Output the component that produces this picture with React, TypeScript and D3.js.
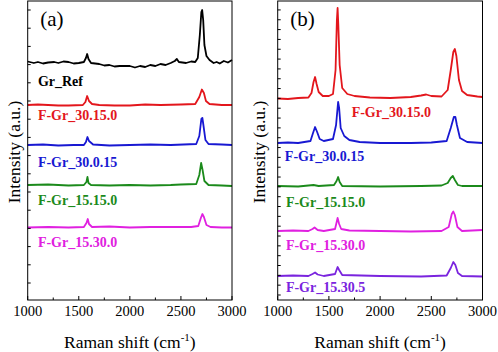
import React from "react";
import * as d3 from "d3";

// Raman shift (cm-1) / intensity (a.u.) pairs, stacked as plotted
const grRef = [[1000, 238.5], [1060, 237], [1100, 238], [1150, 236.5], [1200, 237.5], [1260, 238], [1300, 237], [1350, 238.5], [1400, 238], [1450, 236.5], [1500, 237], [1550, 238], [1570, 242], [1582, 246], [1595, 241], [1620, 237], [1700, 236], [1750, 234.5], [1800, 235], [1850, 233.5], [1900, 234], [2000, 234], [2050, 232.5], [2100, 234], [2150, 233], [2200, 235], [2250, 234], [2300, 236], [2350, 235], [2400, 237], [2440, 239], [2460, 241], [2480, 238], [2550, 237], [2600, 238.5], [2640, 238], [2665, 242], [2685, 265], [2700, 288], [2708, 290], [2718, 280], [2730, 255], [2750, 244], [2780, 240], [2820, 237], [2850, 238], [2880, 236.5], [2920, 239], [2960, 237.5], [3000, 240]];
const fGr30150a = [[1000, 195], [1100, 195.5], [1200, 195], [1300, 194.5], [1400, 194.5], [1540, 195], [1565, 198], [1582, 204], [1600, 199], [1630, 196], [1700, 195], [1850, 194.5], [2000, 194.5], [2150, 195.5], [2300, 195], [2500, 195.5], [2640, 196], [2680, 203], [2705, 210.5], [2725, 207], [2745, 199], [2780, 196], [2900, 195], [3000, 195]];
const fGr30015a = [[1000, 155], [1150, 155.5], [1300, 154.5], [1450, 155], [1550, 155], [1570, 158], [1585, 163], [1600, 159], [1640, 155.5], [1800, 154.5], [2000, 155], [2200, 155.5], [2400, 155], [2650, 156], [2680, 164], [2700, 181], [2710, 182], [2720, 175], [2740, 160], [2770, 156], [2900, 155.5], [3000, 155]];
const fGr15150a = [[1000, 115], [1200, 115.5], [1400, 114.5], [1550, 115], [1575, 118], [1585, 123], [1595, 117], [1620, 115], [1800, 114.5], [2000, 115], [2200, 114.5], [2400, 115], [2500, 115.5], [2650, 116], [2680, 125], [2698, 137], [2712, 130], [2730, 119], [2770, 115], [2900, 114.5], [3000, 114]];
const fGr15300a = [[1000, 72.5], [1200, 73], [1400, 72.5], [1550, 73], [1575, 77], [1588, 81], [1600, 76], [1630, 73], [1800, 73.5], [2000, 72.5], [2200, 73], [2400, 73], [2600, 73], [2670, 74], [2695, 82], [2710, 86], [2725, 83], [2750, 75], [2790, 73], [2900, 72.5], [3000, 72.5]];

const fGr30150b = [[1000, 201.5], [1100, 201], [1200, 202], [1300, 202.5], [1330, 207], [1350, 218], [1365, 223], [1380, 216], [1400, 208], [1440, 204], [1500, 204], [1540, 206], [1565, 230], [1578, 280], [1585, 292], [1592, 275], [1605, 235], [1630, 212], [1680, 206], [1750, 204], [1900, 202.5], [2100, 202], [2300, 203], [2400, 204.5], [2450, 205.5], [2500, 204], [2600, 203.5], [2660, 210], [2690, 230], [2715, 248], [2730, 251], [2745, 244], [2770, 220], [2800, 209], [2850, 205], [2950, 203.5], [3000, 203]];
const fGr30015b = [[1000, 157], [1100, 157.5], [1200, 157], [1320, 159], [1345, 167], [1365, 173], [1385, 168], [1410, 161], [1450, 159], [1540, 161], [1570, 175], [1590, 198], [1600, 192], [1615, 172], [1650, 164], [1700, 160], [1800, 158], [2000, 157], [2300, 157], [2500, 157.5], [2650, 159], [2690, 172], [2720, 183], [2735, 183], [2750, 175], [2780, 162], [2850, 158], [3000, 157]];
const fGr15150b = [[1000, 114], [1200, 113.5], [1350, 115], [1400, 114], [1550, 115], [1575, 119], [1590, 123], [1605, 118], [1630, 114], [2000, 113.5], [2400, 114], [2600, 114.5], [2660, 117], [2690, 122], [2710, 124], [2730, 120], [2760, 115], [2800, 114], [3000, 114]];
const fGr15300b = [[1000, 69], [1150, 69.5], [1300, 69], [1340, 71], [1360, 72.5], [1390, 70], [1450, 69], [1560, 71], [1585, 82], [1600, 76], [1620, 71], [1700, 69.5], [2000, 69], [2300, 68.5], [2600, 69], [2670, 73], [2700, 86], [2715, 88.5], [2730, 85], [2755, 73], [2800, 69], [2900, 69.5], [3000, 70]];
const fGr15305b = [[1000, 24], [1150, 24.5], [1300, 24], [1340, 26], [1365, 27.5], [1390, 25.5], [1450, 24], [1560, 26], [1585, 33], [1600, 30], [1630, 25], [2000, 24], [2400, 23.5], [2650, 24.5], [2690, 32], [2715, 38], [2735, 35], [2760, 27], [2800, 24], [3000, 23.5]];

const labelsA = ["Gr_Ref", "F-Gr_30.15.0", "F-Gr_30.0.15", "F-Gr_15.15.0", "F-Gr_15.30.0"];
const labelsB = ["F-Gr_30.15.0", "F-Gr_30.0.15", "F-Gr_15.15.0", "F-Gr_15.30.0", "F-Gr_15.30.5"];
const colorsA = ["#000000", "#e3161c", "#1818d2", "#1b8a1b", "#e020e0"];
const colorsB = ["#e3161c", "#1818d2", "#1b8a1b", "#e020e0", "#7a24de"];
// label anchor: [raman shift, intensity] of text baseline start
const labelPosA = [[1100, 214], [1100, 180.5], [1100, 133], [1100, 95], [1100, 53.5]];
const labelPosB = [[1722, 183.5], [1070, 139], [1080, 93.5], [1080, 50], [1080, 8.5]];

const xTicks = [1000, 1500, 2000, 2500, 3000];
const xMinor = [1250, 1750, 2250, 2750];
const yTicksA = d3.range(17, 295, 18.2);
const yTicksB = d3.range(5, 295, 9.83);

const W = 498;
const H = 352;
const serif = "'Liberation Serif', 'Times New Roman', serif";

type Pt = number[];

function Panel({ left, right, series, colors, labels, labelPos, yTicks, tag, titleX }: {
  left: number; right: number; series: Pt[][]; colors: string[]; labels: string[];
  labelPos: Pt[]; yTicks: number[]; tag: string; titleX: number;
}) {
  const top = 1;
  const bottom = 300;
  const x = d3.scaleLinear().domain([1000, 3000]).range([left, right]);
  const y = d3.scaleLinear().domain([0, 299]).range([bottom, top]);
  const line = d3.line<Pt>().x((d) => x(d[0])).y((d) => y(d[1]));
  return (
    <g>
      {series.map((s, i) => (
        <path key={i} d={line(s) || ""} fill="none" stroke={colors[i]} strokeWidth={1.8} strokeLinejoin="round" />
      ))}
      {labels.map((t, i) => (
        <text key={t + i} x={x(labelPos[i][0])} y={y(labelPos[i][1])} fill={colors[i]}
          fontFamily={serif} fontWeight="bold" fontSize={14}>{t}</text>
      ))}
      <rect x={left} y={top} width={right - left} height={bottom - top} fill="none" stroke="#000" strokeWidth={1} />
      {xTicks.map((v) => (
        <g key={v}>
          <line x1={x(v)} x2={x(v)} y1={bottom} y2={bottom - 4} stroke="#000" />
          <text x={x(v)} y={315.5} textAnchor="middle" fontFamily={serif} fontSize={14.5}>{v}</text>
        </g>
      ))}
      {xMinor.map((v) => (
        <line key={v} x1={x(v)} x2={x(v)} y1={bottom} y2={bottom - 2.5} stroke="#000" />
      ))}
      {yTicks.map((v) => (
        <line key={v} x1={left} x2={left + 3} y1={y(v)} y2={y(v)} stroke="#000" />
      ))}
      <text x={left + 12.5} y={26} fontFamily={serif} fontSize={21} fill="#000">{tag}</text>
      <text transform={`translate(${titleX},152) rotate(-90)`} textAnchor="middle" fontFamily={serif} fontSize={17.5}>Intensity (a.u.)</text>
      <text x={(left + right) / 2} y={348} textAnchor="middle" fontFamily={serif} fontSize={17.5}>
        Raman shift (cm<tspan dy={-7} fontSize={11}>-1</tspan><tspan dy={7}>)</tspan>
      </text>
    </g>
  );
}

export default function App() {
  return (
    <svg width={W} height={H} style={{ position: "absolute", left: 0, top: 0, background: "#fff" }}>
      <Panel left={27.7} right={232} series={[grRef, fGr30150a, fGr30015a, fGr15150a, fGr15300a]}
        colors={colorsA} labels={labelsA} labelPos={labelPosA} yTicks={yTicksA} tag="(a)" titleX={19.5} />
      <Panel left={277.7} right={482.5} series={[fGr30150b, fGr30015b, fGr15150b, fGr15300b, fGr15305b]}
        colors={colorsB} labels={labelsB} labelPos={labelPosB} yTicks={yTicksB} tag="(b)" titleX={264.5} />
    </svg>
  );
}
